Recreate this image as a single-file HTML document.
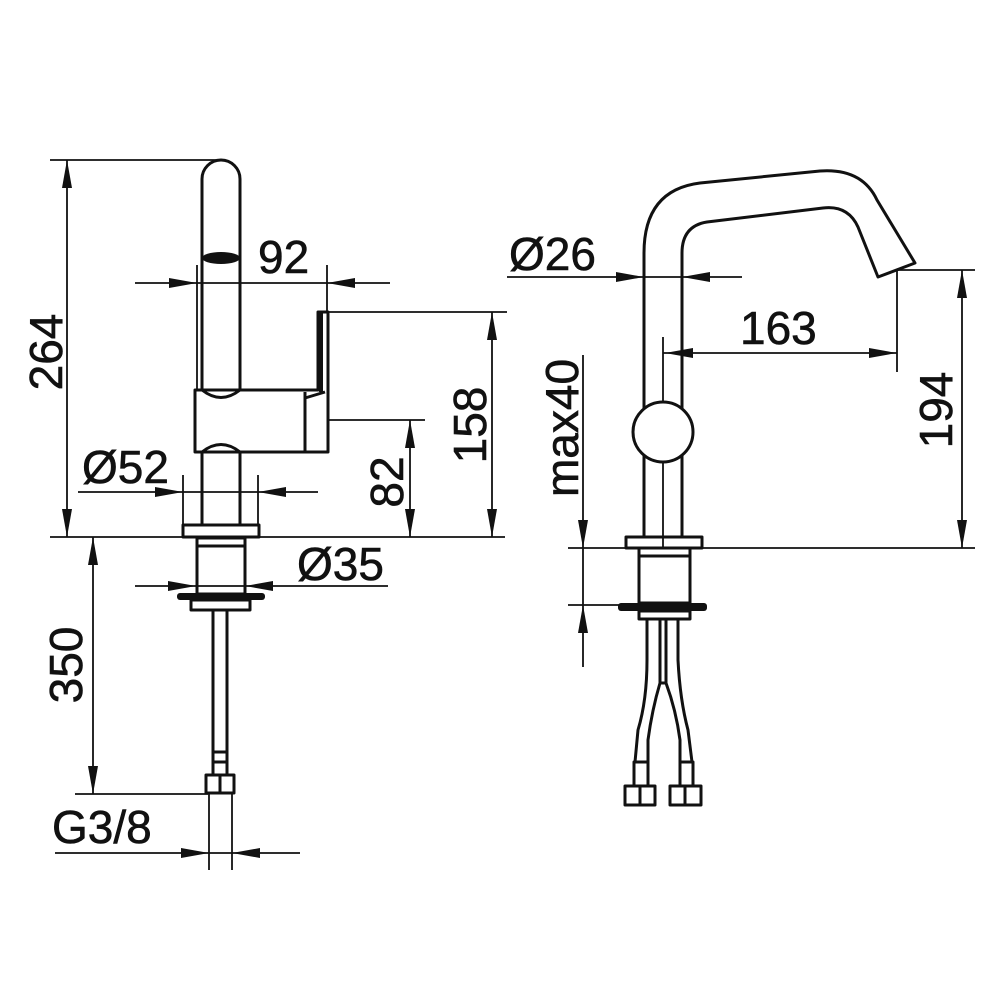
<!DOCTYPE html>
<html><head><meta charset="utf-8"><style>
html,body{margin:0;padding:0;background:#fff}
svg{display:block}
text{font-family:"Liberation Sans",Arial,sans-serif;font-size:46px;fill:#111;stroke:#111;stroke-width:0.6}
</style></head><body>
<svg width="990" height="990" viewBox="0 0 990 990" xmlns="http://www.w3.org/2000/svg">
<rect width="990" height="990" fill="#fff"/>
<g fill="none" stroke="#111" stroke-width="1.8">
<line x1="50" y1="160" x2="222" y2="160"/>
<line x1="67" y1="160" x2="67" y2="537"/>
<line x1="50" y1="537" x2="505" y2="537"/>
<line x1="135" y1="283" x2="390" y2="283"/>
<line x1="197" y1="265" x2="197" y2="390"/>
<line x1="327" y1="265" x2="327" y2="312"/>
<line x1="328" y1="312" x2="507" y2="312"/>
<line x1="492" y1="312" x2="492" y2="537"/>
<line x1="329" y1="420" x2="425" y2="420"/>
<line x1="410" y1="420" x2="410" y2="537"/>
<line x1="78" y1="492" x2="318" y2="492"/>
<line x1="183" y1="475" x2="183" y2="525"/>
<line x1="258" y1="475" x2="258" y2="525"/>
<line x1="135" y1="586" x2="388" y2="586"/>
<line x1="93" y1="537" x2="93" y2="794"/>
<line x1="75" y1="794" x2="208" y2="794"/>
<line x1="55" y1="853" x2="300" y2="853"/>
<line x1="209" y1="794" x2="209" y2="870"/>
<line x1="232" y1="794" x2="232" y2="870"/>
<line x1="507" y1="277" x2="742" y2="277"/>
<line x1="663" y1="353" x2="897" y2="353"/>
<line x1="897" y1="270" x2="897" y2="372"/>
<line x1="897" y1="270" x2="975" y2="270"/>
<line x1="962" y1="270" x2="962" y2="548"/>
<line x1="568" y1="548" x2="975" y2="548"/>
<line x1="583" y1="355" x2="583" y2="667"/>
<line x1="568" y1="605" x2="625" y2="605"/>
<line x1="663" y1="337" x2="663" y2="547"/>
</g>
<g fill="#111">
<polygon points="67,160 62,188 72,188"/>
<polygon points="67,537 62,509 72,509"/>
<polygon points="197,283 169,278 169,288"/>
<polygon points="327,283 355,278 355,288"/>
<polygon points="492,312 487,340 497,340"/>
<polygon points="492,537 487,509 497,509"/>
<polygon points="410,420 405,448 415,448"/>
<polygon points="410,537 405,509 415,509"/>
<polygon points="183,492 155,487 155,497"/>
<polygon points="258,492 286,487 286,497"/>
<polygon points="196,586 168,581 168,591"/>
<polygon points="245,586 273,581 273,591"/>
<polygon points="93,537 88,565 98,565"/>
<polygon points="93,794 88,766 98,766"/>
<polygon points="209,853 181,848 181,858"/>
<polygon points="232,853 260,848 260,858"/>
<polygon points="644,277 616,272 616,282"/>
<polygon points="682,277 710,272 710,282"/>
<polygon points="665,353 693,348 693,358"/>
<polygon points="897,353 869,348 869,358"/>
<polygon points="962,270 957,298 967,298"/>
<polygon points="962,548 957,520 967,520"/>
<polygon points="583,548 578,520 588,520"/>
<polygon points="583,605 578,633 588,633"/>
</g>
<g fill="none" stroke="#111" stroke-width="3" stroke-linejoin="round">
<path d="M202,390 L202,179 A19,19 0 0 1 240,179 L240,390"/>
<path d="M195,390 L318,390 L318,312 L328,312 L328,452 L195,452 Z"/>
<path d="M202,390 Q221,405 240,390"/>
<path d="M202,452 Q221,437 240,452"/>
<path d="M305,398 L325,392"/>
<line x1="305" y1="392" x2="305" y2="452"/>
<line x1="202" y1="452" x2="202" y2="525"/>
<line x1="240" y1="452" x2="240" y2="525"/>
<rect x="183" y="525" width="76" height="12"/>
<rect x="197" y="538" width="48" height="56"/>
<line x1="197" y1="546" x2="245" y2="546"/>
<rect x="191" y="600" width="59" height="10"/>
<line x1="213" y1="610" x2="213" y2="775"/>
<line x1="227" y1="610" x2="227" y2="775"/>
<line x1="213" y1="752" x2="227" y2="752"/>
<line x1="213" y1="762" x2="227" y2="762"/>
<rect x="206" y="775" width="28" height="18"/>
<line x1="220" y1="775" x2="220" y2="793"/>
<path d="M644,537 L644,253 Q644,190 700,183 L820,171 Q862,168 877,200 L915,263 L878,277 L858,227 Q848,205 823,208 L707,222 Q682,226 682,253 L682,537"/>
<circle cx="663" cy="432" r="30" fill="#fff"/>
<rect x="626" y="537" width="76" height="11"/>
<rect x="639" y="548" width="51" height="55"/>
<line x1="639" y1="556" x2="690" y2="556"/>
<rect x="639" y="611" width="51" height="8"/>
<path d="M647,619 L647,660 Q647,700 638,730 L635,762"/>
<path d="M660,619 L660,683 Q652,710 648,740 L648,762"/>
<path d="M666,619 L666,683 Q676,710 680,740 L680,762"/>
<path d="M678,619 L678,660 Q680,700 688,730 L692,762"/>
<line x1="660" y1="683" x2="666" y2="683"/>
<rect x="634" y="762" width="14" height="24"/>
<rect x="680" y="762" width="13" height="24"/>
<rect x="625" y="786" width="30" height="19"/>
<rect x="670" y="786" width="31" height="19"/>
<line x1="640" y1="786" x2="640" y2="805"/>
<line x1="685" y1="786" x2="685" y2="805"/>
</g>
<g fill="#111">
<ellipse cx="221" cy="258" rx="19" ry="6"/>
<rect x="177" y="593" width="88" height="7" rx="3"/>
<rect x="618" y="603" width="89" height="8" rx="3"/>
<rect x="319" y="313" width="4" height="79"/>
</g>
<text x="258" y="273">92</text>
<text x="82" y="483">Ø52</text>
<text x="297" y="580">Ø35</text>
<text x="52" y="843">G3/8</text>
<text transform="translate(62,352) rotate(-90)" text-anchor="middle">264</text>
<text transform="translate(486,425) rotate(-90)" text-anchor="middle">158</text>
<text transform="translate(403,482) rotate(-90)" text-anchor="middle">82</text>
<text transform="translate(82,665) rotate(-90)" text-anchor="middle">350</text>
<text x="509" y="270">Ø26</text>
<text x="740" y="344">163</text>
<text transform="translate(952,410) rotate(-90)" text-anchor="middle">194</text>
<text transform="translate(578,428) rotate(-90)" text-anchor="middle">max40</text>
</svg>
</body></html>
